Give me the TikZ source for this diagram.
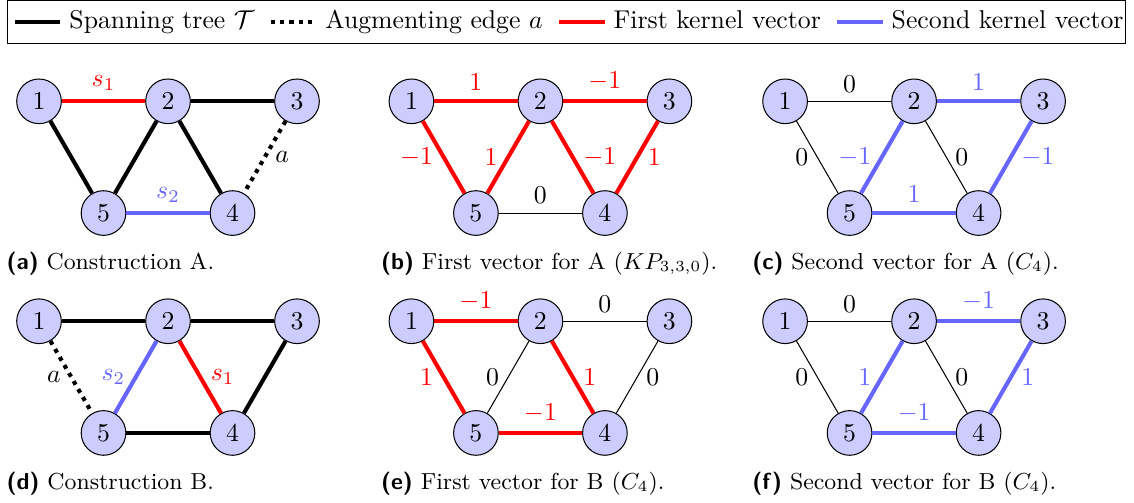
\documentclass[tikz,border=0pt]{standalone}
\usepackage{amsmath,amssymb}
\usetikzlibrary{positioning}
\newcommand{\trinodes}[3]{%
  \node[vert] (#11) at (#2,#3) {1};
  \node[vert, right=1.762cm of #11] (#12) {2};
  \node[vert, right=1.762cm of #12] (#13) {3};
  \node[vert, below right=1.526cm and 0.881cm of #11] (#15) {5};
  \node[vert, right=1.762cm of #15] (#14) {4};
}
\newcommand{\sublabel}[1]{\textsf{\textbf{(#1)}}}

\begin{document}
\begin{tikzpicture}[
  vert/.style={draw, circle, fill=blue!20, minimum size=0.61cm, inner sep=0pt, on grid},
  tree/.style={line width=1.6pt},
  aug/.style={line width=1.6pt, dotted},
  first/.style={red, line width=1.6pt},
  second/.style={blue!60, line width=1.6pt},
  zero/.style={thin},
  key/.style={anchor=west},
  capt/.style={anchor=base west, inner sep=0pt, font=\small}]
  \useasboundingbox (0,0) rectangle (15.49,-6.858);

  % legend
  \draw (0.096,-0.012) rectangle (15.37,-0.59);
  \coordinate (k1) at (0.205,-0.30);
  \draw[tree] (k1) -- ++(0.62,0) coordinate (k1e);
  \node[key] (t1) at (k1e) {\strut Spanning tree $\mathcal{T}$};
  \coordinate[right=0.1cm of t1] (k2);
  \draw[aug] (k2) -- ++(0.62,0) coordinate (k2e);
  \node[key] (t2) at (k2e) {\strut Augmenting edge $a$};
  \coordinate[right=0.1cm of t2] (k3);
  \draw[first] (k3) -- ++(0.62,0) coordinate (k3e);
  \node[key, black] (t3) at (k3e) {\strut First kernel vector};
  \coordinate[right=0.1cm of t3] (k4);
  \draw[second] (k4) -- ++(0.62,0) coordinate (k4e);
  \node[key, black] (t4) at (k4e) {\strut Second kernel vector};

  % (a) construction A
  \trinodes{a}{0.533}{-1.384}
  \draw[first] (a1) -- node[above] {$s_1$} (a2);
  \draw[tree] (a2) -- (a3);
  \draw[tree] (a1) -- (a5);
  \draw[tree] (a5) -- (a2);
  \draw[tree] (a2) -- (a4);
  \draw[aug] (a3) -- node[right] {$a$} (a4);
  \draw[second] (a5) -- node[above] {$s_2$} (a4);
  \node[capt] (capa) at (0.085,-3.675) {\sublabel{a} Construction A.};

  % (b) first vector for A
  \trinodes{b}{5.62}{-1.384}
  \draw[first] (b1) -- node[above] {$1$} (b2);
  \draw[first] (b2) -- node[above] {$-1$} (b3);
  \draw[first] (b1) -- node[left] {$-1$} (b5);
  \draw[first] (b5) -- node[left] {$1$} (b2);
  \draw[first] (b2) -- node[right] {$-1$} (b4);
  \draw[first] (b3) -- node[right] {$1$} (b4);
  \draw[zero] (b5) -- node[above] {$0$} (b4);
  \node[capt] (capb) at (5.2,-3.675) {\sublabel{b} First vector for A ($KP_{3,3,0}$).};

  % (c) second vector for A
  \trinodes{c}{10.724}{-1.384}
  \draw[zero] (c1) -- node[above] {$0$} (c2);
  \draw[second] (c2) -- node[above] {$1$} (c3);
  \draw[zero] (c1) -- node[left] {$0$} (c5);
  \draw[second] (c5) -- node[left] {$-1$} (c2);
  \draw[zero] (c2) -- node[right] {$0$} (c4);
  \draw[second] (c3) -- node[right] {$-1$} (c4);
  \draw[second] (c5) -- node[above] {$1$} (c4);
  \node[capt] (capc) at (10.27,-3.675) {\sublabel{c} Second vector for A ($C_4$).};

  % (d) construction B
  \trinodes{d}{0.533}{-4.388}
  \draw[tree] (d1) -- (d2);
  \draw[tree] (d2) -- (d3);
  \draw[aug] (d1) -- node[left] {$a$} (d5);
  \draw[second] (d5) -- node[left] {$s_2$} (d2);
  \draw[first] (d2) -- node[right] {$s_1$} (d4);
  \draw[tree] (d3) -- (d4);
  \draw[tree] (d5) -- (d4);
  \node[capt] (capd) at (0.085,-6.68) {\sublabel{d} Construction B.};

  % (e) first vector for B
  \trinodes{e}{5.62}{-4.388}
  \draw[first] (e1) -- node[above] {$-1$} (e2);
  \draw[zero] (e2) -- node[above] {$0$} (e3);
  \draw[first] (e1) -- node[left] {$1$} (e5);
  \draw[zero] (e5) -- node[left] {$0$} (e2);
  \draw[first] (e2) -- node[right] {$1$} (e4);
  \draw[zero] (e3) -- node[right] {$0$} (e4);
  \draw[first] (e5) -- node[above] {$-1$} (e4);
  \node[capt] (cape) at (5.2,-6.68) {\sublabel{e} First vector for B ($C_4$).};

  % (f) second vector for B
  \trinodes{f}{10.724}{-4.388}
  \draw[zero] (f1) -- node[above] {$0$} (f2);
  \draw[second] (f2) -- node[above] {$-1$} (f3);
  \draw[zero] (f1) -- node[left] {$0$} (f5);
  \draw[second] (f5) -- node[left] {$1$} (f2);
  \draw[zero] (f2) -- node[right] {$0$} (f4);
  \draw[second] (f3) -- node[right] {$1$} (f4);
  \draw[second] (f5) -- node[above] {$-1$} (f4);
  \node[capt] (capf) at (10.27,-6.68) {\sublabel{f} Second vector for B ($C_4$).};
\end{tikzpicture}
\end{document}
